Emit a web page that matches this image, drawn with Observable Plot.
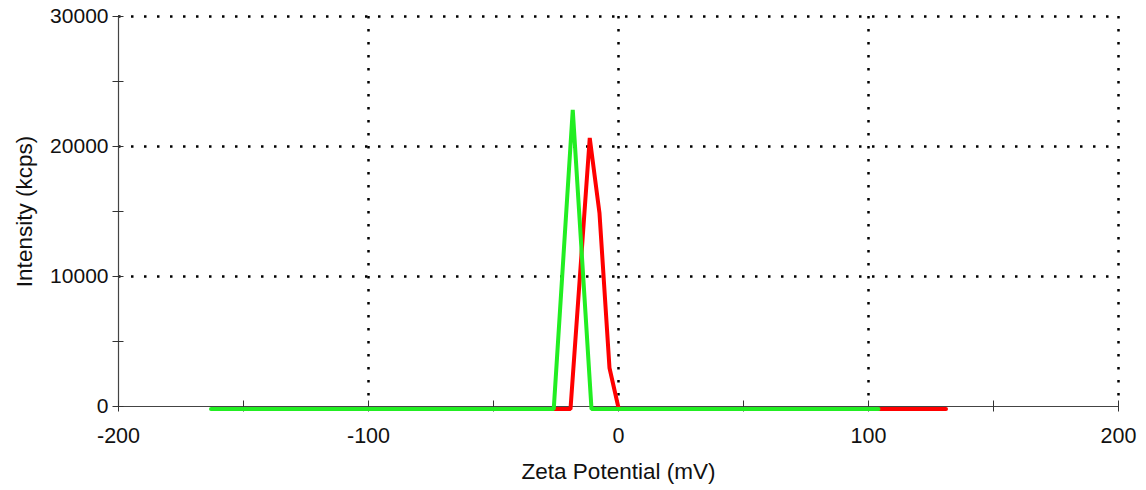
<!DOCTYPE html>
<html>
<head>
<meta charset="utf-8">
<script src="https://cdn.jsdelivr.net/npm/d3@7"></script>
<script src="https://cdn.jsdelivr.net/npm/@observablehq/plot@0.6"></script>
<style>
  html, body { margin: 0; padding: 0; background: #fff; }
  #chart { width: 1146px; height: 490px; }
</style>
</head>
<body>
<div id="chart"></div>
<script>
// Zeta potential (mV) and intensity (kcps) vertices of each trace
const greenZeta = [-163, -25.9, -18.3, -10.8, 104];
const greenIntensity = [0, 0, 23000, 0, 0];
const redZeta = [-160, -19.2, -11.5, -7.6, -3.6, 0.1, 131];
const redIntensity = [0, 0, 20850, 15050, 3150, 0, 0];

const xTicksMajor = [-200, -100, 0, 100, 200];
const xTicksAll = [-200, -150, -100, -50, 0, 50, 100, 150, 200];
const yTicksMajor = [0, 10000, 20000, 30000];
const yTicksAll = [0, 5000, 10000, 15000, 20000, 25000, 30000];
const xGrid = [-100, 0, 100, 200];
const yGrid = [10000, 20000, 30000];
const xTitle = "Zeta Potential (mV)";
const yTitle = "Intensity (kcps)";

const green = greenZeta.map((x, i) => ({x, y: greenIntensity[i]}));
const red = redZeta.map((x, i) => ({x, y: redIntensity[i]}));

const dotted = {stroke: "#000", strokeOpacity: 1, strokeWidth: 2.5, strokeDasharray: "2.5,10.5"};

const chart = Plot.plot({
  width: 1146,
  height: 490,
  marginLeft: 118,
  marginRight: 28,
  marginTop: 16,
  marginBottom: 84,
  style: {fontFamily: "'Liberation Sans', Arial, sans-serif", background: "#fff", color: "#222"},
  x: {domain: [-200, 200]},
  y: {domain: [0, 30000]},
  marks: [
    Plot.gridX(xGrid, dotted),
    Plot.gridY(yGrid, dotted),
    Plot.ruleX([-200], {stroke: "#444", strokeWidth: 1.2}),
    Plot.ruleY([0], {stroke: "#444", strokeWidth: 1.2}),
    // tick marks crossing the axes
    Plot.axisX({ticks: xTicksAll, tickSize: 11, dy: -5.5, text: null, label: null, stroke: "#333"}),
    Plot.axisY({ticks: yTicksAll, tickSize: 11, dx: 5.5, text: null, label: null, stroke: "#333"}),
    // tick labels
    Plot.axisX({ticks: xTicksMajor, tickSize: 0, tickPadding: 21, fontSize: 21.5, tickFormat: d => String(d), label: null, fill: "#111"}),
    Plot.axisY({ticks: yTicksMajor, tickSize: 0, tickPadding: 10, fontSize: 21, tickFormat: d => String(d), label: null, fill: "#111"}),
    // axis titles
    Plot.text([xTitle], {text: d => d, frameAnchor: "bottom", dy: 72, fontSize: 22.5, fill: "#111"}),
    Plot.text([yTitle], {text: d => d, frameAnchor: "left", textAnchor: "middle", dx: -94, rotate: -90, fontSize: 22.5, fill: "#111"}),
    Plot.line(red, {x: "x", y: "y", stroke: "#ff0000", strokeWidth: 4, dy: 2.5, strokeLinejoin: "miter", curve: "linear"}),
    Plot.line(green, {x: "x", y: "y", stroke: "#22ee22", strokeWidth: 4, dy: 2.5, strokeLinejoin: "miter", curve: "linear"})
  ]
});
document.getElementById("chart").appendChild(chart);
</script>
</body>
</html>
